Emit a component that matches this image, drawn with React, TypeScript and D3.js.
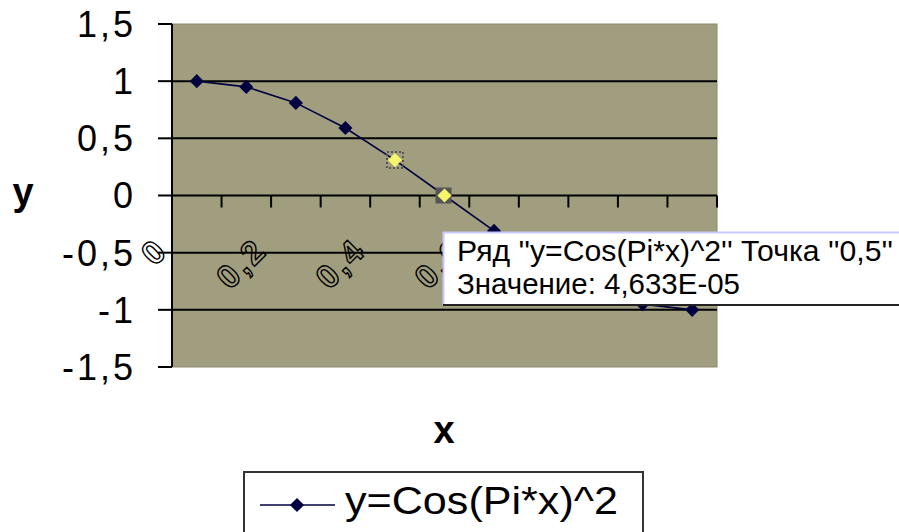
import React from 'react';
import * as d3 from 'd3';

// categories on the x axis (every tenth from 0 to 1)
const categories = ['0', '0,1', '0,2', '0,3', '0,4', '0,5', '0,6', '0,7', '0,8', '0,9', '1'];
// series values
const values = [1, 0.95, 0.81, 0.59, 0.31, 0.00004633, -0.31, -0.59, -0.81, -0.95, -1];
const yTicks = [1.5, 1, 0.5, 0, -0.5, -1, -1.5];
const gridValues = [1, 0.5, 0, -0.5, -1];
const shownLabels = ['0', '0,2', '0,4', '0,6', '0,8', '1'];
const selected = ['0,4', '0,5'];
const seriesName = 'y=Cos(Pi*x)^2';
const tipPoint = '0,5';
const tipValue = '4,633E-05';

const W = 899;
const H = 532;
const margin = { top: 24, right: 182, bottom: 165, left: 172 };

const App = () => {
  const x = d3.scaleBand()
    .domain(categories)
    .range([margin.left, W - margin.right]);

  const y = d3.scaleLinear()
    .domain([-1.5, 1.5])
    .range([H - margin.bottom, margin.top]);

  const cx = (c: string) => (x(c) as number) + x.bandwidth() / 2;
  const fmt = (v: number) => String(v).replace('.', ',');

  const line = d3.line<number>()
    .x((_, i) => cx(categories[i]))
    .y((d) => y(d));

  const diamond = d3.symbol(d3.symbolSquare, 100)() as string;

  const font = "'Liberation Sans', Arial, sans-serif";
  const bg = '#a09e7e';
  const navy = '#000040';
  const x0 = margin.left;
  const x1 = W - margin.right;

  const tipX = 443;
  const tipY = 232;

  return (
    <svg width={W} height={H} style={{ position: 'absolute', left: 0, top: 0, background: '#fff' }}>
      {/* plot area */}
      <rect x={x0} y={y(1.5)} width={x1 - x0} height={y(-1.5) - y(1.5)} fill={bg} stroke="#8c8a6c" strokeWidth={1} />

      {/* gridlines */}
      {gridValues.map((v) => (
        <line key={'g' + v} x1={x0} x2={x1} y1={y(v)} y2={y(v)} stroke="#000" strokeWidth={2} />
      ))}

      {/* y axis */}
      <line x1={x0} x2={x0} y1={y(1.5)} y2={y(-1.5)} stroke="#000" strokeWidth={2} />
      {yTicks.map((v) => (
        <g key={'t' + v}>
          <line x1={x0 - 14} x2={x0} y1={y(v)} y2={y(v)} stroke="#000" strokeWidth={2} />
          <text x={136} y={y(v)} dy="0.36em" textAnchor="end" fontFamily={font} fontSize={36}
            letterSpacing={3} fill="#000">{fmt(v)}</text>
        </g>
      ))}

      {/* category axis crossing at 0 */}
      {categories.map((c, i) => (
        <line key={'xt' + c} x1={(x(c) as number) + x.bandwidth()} x2={(x(c) as number) + x.bandwidth()}
          y1={y(0)} y2={y(0) + 12} stroke="#000" strokeWidth={2} />
      ))}
      {shownLabels.map((c) => (
        <text key={'xl' + c} transform={`translate(${cx(c) - 27},${252}) rotate(-45)`}
          textAnchor="end" fontFamily={font} fontSize={33} fontWeight="bold" letterSpacing={3}
          fill="none" stroke="#000" strokeWidth={1.4}>{c}</text>
      ))}

      {/* series */}
      <path d={line(values) as string} fill="none" stroke={navy} strokeWidth={1.6} />
      {values.map((v, i) => {
        const c = categories[i];
        const sel = selected.includes(c);
        return (
          <g key={'p' + c} transform={`translate(${cx(c)},${y(v)})`}>
            {sel && c === tipPoint && <rect x={-9} y={-8} width={16} height={16} fill="#555" />}
            {sel && c !== tipPoint && <rect x={-8} y={-8} width={16} height={16} fill="none" stroke="#555" strokeWidth={2} strokeDasharray="2,2" />}
            <path d={diamond} transform="rotate(45)" fill={sel ? '#f6f56c' : navy} />
          </g>
        );
      })}

      {/* axis titles */}
      <text x={23} y={205} textAnchor="middle" fontFamily={font} fontSize={38} fontWeight="bold">y</text>
      <text x={444} y={443} textAnchor="middle" fontFamily={font} fontSize={38} fontWeight="bold">x</text>

      {/* hover tooltip */}
      <rect x={tipX} y={tipY} width={W - tipX + 10} height={73} fill="#fff" />
      <line x1={tipX} x2={W} y1={tipY + 0.5} y2={tipY + 0.5} stroke="#c8c8ff" strokeWidth={2} />
      <line x1={tipX + 0.5} x2={tipX + 0.5} y1={tipY} y2={tipY + 73} stroke="#c8c8ff" strokeWidth={2} />
      <line x1={tipX} x2={W} y1={tipY + 73} y2={tipY + 73} stroke="#222" strokeWidth={2} />
      <text x={457} y={261} fontFamily={font} fontSize={30} textLength={436} lengthAdjust="spacingAndGlyphs">
        {`Ряд ''${seriesName}'' Точка ''${tipPoint}''`}
      </text>
      <text x={457} y={294} fontFamily={font} fontSize={30} textLength={283} lengthAdjust="spacingAndGlyphs">
        {`Значение: ${tipValue}`}
      </text>

      {/* legend */}
      <rect x={244} y={472} width={399} height={70} fill="#fff" stroke="#333" strokeWidth={2} />
      <line x1={260} x2={335} y1={505} y2={505} stroke={navy} strokeWidth={1.6} />
      <path d={diamond} transform="translate(297,505) rotate(45)" fill={navy} />
      <text x={345} y={514} fontFamily={font} fontSize={38} textLength={273} lengthAdjust="spacingAndGlyphs">{seriesName}</text>
    </svg>
  );
};

export default App;
